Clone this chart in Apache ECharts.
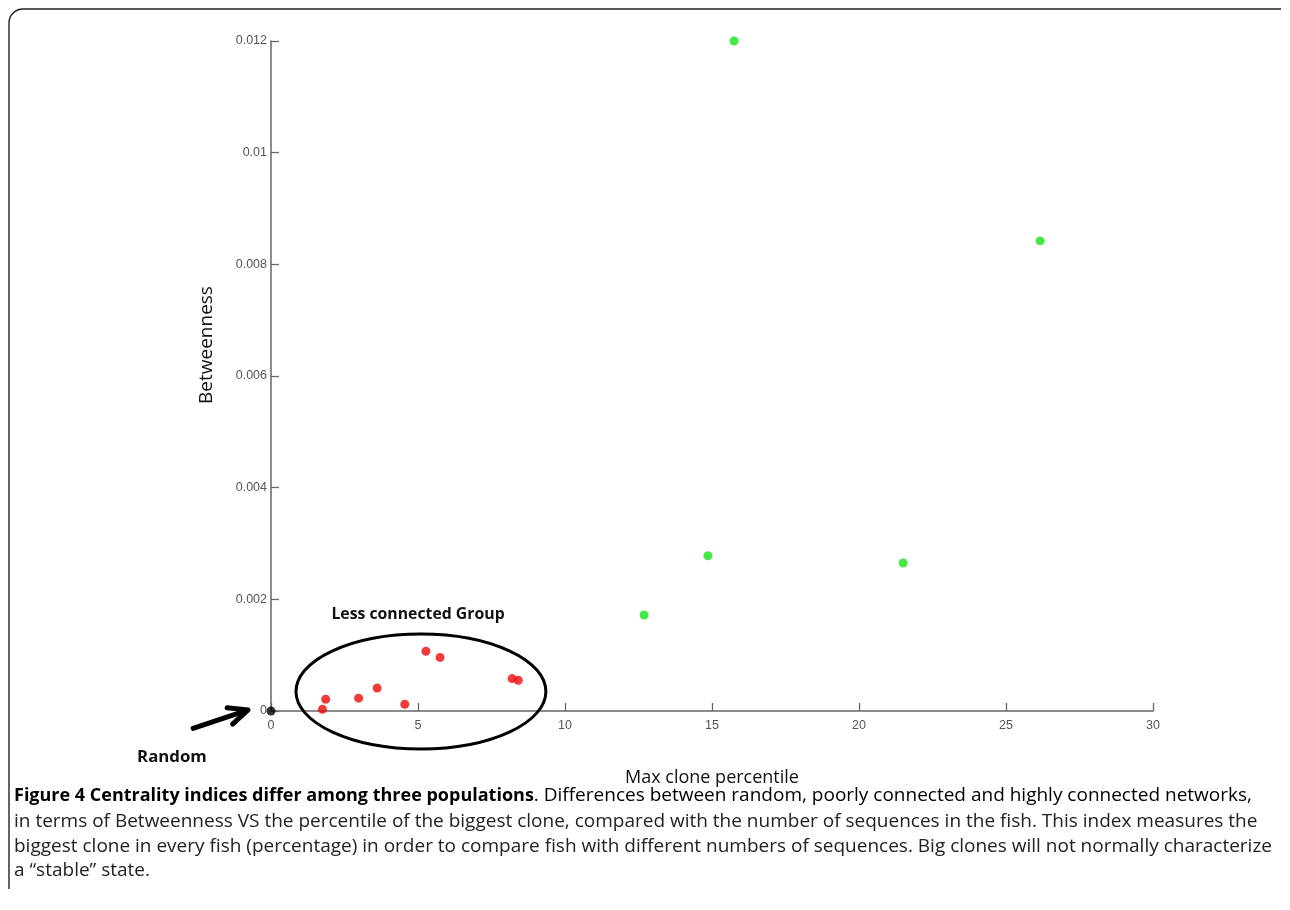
<!DOCTYPE html>
<html>
<head>
<meta charset="utf-8">
<script src="https://cdn.jsdelivr.net/npm/echarts@6/dist/echarts.min.js"></script>
<style>
html,body{margin:0;padding:0;background:#fff;}
#chart{width:1290px;height:910px;}
</style>
</head>
<body>
<div id="chart"></div>
<script>
// ---- data ----
const xTicks = [0, 5, 10, 15, 20, 25, 30];
const yTicks = [0, 0.002, 0.004, 0.006, 0.008, 0.01, 0.012];

const randomX = [0];
const randomY = [0];

const lessX = [1.75, 1.86, 2.98, 3.61, 4.55, 5.27, 5.75, 8.20, 8.41];
const lessY = [0.00003, 0.00021, 0.00023, 0.00041, 0.00012, 0.00107, 0.00096, 0.00058, 0.00055];

const highX = [12.69, 14.86, 15.75, 21.50, 26.16];
const highY = [0.00172, 0.00278, 0.01200, 0.00265, 0.00842];

// annotations (data coordinates)
const groupEllipse = [5.1, 0.00035, 4.25, 0.00103]; // cx, cy, rx, ry
const arrowLine = [-2.65, -0.00031, -0.78, 0.00002]; // from x,y -> to x,y
const annotLabels = ['Less connected Group', 'Random'];
const annotPos = [[5.0, 0.00173], [-3.37, -0.00083]];

const xTitle = 'Max clone percentile';
const yTitle = 'Betweenness';

const captionBold = 'Figure 4 Centrality indices differ among three populations';
const captionLines = [
  '. Differences between random, poorly connected and highly connected networks,',
  'in terms of Betweenness VS the percentile of the biggest clone, compared with the number of sequences in the fish. This index measures the',
  'biggest clone in every fish (percentage) in order to compare fish with different numbers of sequences. Big clones will not normally characterize',
  'a \u201cstable\u201d state.'
];

const zip = (xs, ys) => xs.map((x, i) => [x, ys[i]]);

const tickFont = '"Liberation Sans", Arial, sans-serif';
const textFont = '"Open Sans", "Noto Sans", sans-serif';
const capSize = 19;

const chart = echarts.init(document.getElementById('chart'), null, {renderer: 'canvas'});

const option = {
  animation: false,
  backgroundColor: '#ffffff',
  grid: {left: 271, right: 137, top: 41, bottom: 199, containLabel: false},
  xAxis: {
    type: 'value', min: xTicks[0], max: xTicks[xTicks.length - 1], interval: 5,
    splitLine: {show: false},
    axisLine: {show: true, lineStyle: {color: '#666', width: 1.5}},
    axisTick: {show: true, inside: true, length: 8, lineStyle: {color: '#666', width: 1.3}},
    axisLabel: {margin: 8, color: '#555', fontFamily: tickFont, fontSize: 12.5},
    name: xTitle, nameLocation: 'middle', nameGap: 58,
    nameTextStyle: {color: '#111', fontFamily: textFont, fontSize: 18}
  },
  yAxis: {
    type: 'value', min: yTicks[0], max: yTicks[yTicks.length - 1], interval: 0.002,
    splitLine: {show: false},
    axisLine: {show: true, lineStyle: {color: '#666', width: 1.5}},
    axisTick: {show: true, inside: true, length: 8, lineStyle: {color: '#666', width: 1.3}},
    axisLabel: {margin: 4, color: '#555', fontFamily: tickFont, fontSize: 12.5,
      formatter: v => String(parseFloat(v.toFixed(4)))}
  },
  graphic: [
    {type: 'line', silent: true, shape: {x1: 9, y1: 889, x2: 9, y2: 23}, style: {stroke: '#222', lineWidth: 1.4}},
    {type: 'arc', silent: true, shape: {cx: 23, cy: 23, r: 14, startAngle: Math.PI, endAngle: Math.PI * 1.5, clockwise: true},
      style: {stroke: '#222', lineWidth: 1.4, fill: null}},
    {type: 'line', silent: true, shape: {x1: 23, y1: 9, x2: 1281, y2: 9}, style: {stroke: '#222', lineWidth: 1.4}},
    {type: 'text', x: 207, y: 345, rotation: Math.PI / 2,
      style: {text: yTitle, fill: '#111', font: '19px ' + textFont, align: 'center', verticalAlign: 'middle'}},
    {type: 'text', x: 14, y: 796,
      style: {text: '{b|' + captionBold + '}{n|' + captionLines[0] + '}', verticalAlign: 'middle',
        rich: {b: {fontFamily: textFont, fontWeight: 'bold', fontSize: 18, color: '#111'},
               n: {fontFamily: textFont, fontSize: capSize, color: '#222'}}}},
    {type: 'text', x: 14, y: 822, style: {text: captionLines[1], fill: '#222', font: capSize + 'px ' + textFont, verticalAlign: 'middle'}},
    {type: 'text', x: 14, y: 847, style: {text: captionLines[2], fill: '#222', font: capSize + 'px ' + textFont, verticalAlign: 'middle'}},
    {type: 'text', x: 14, y: 871, style: {text: captionLines[3], fill: '#222', font: capSize + 'px ' + textFont, verticalAlign: 'middle'}}
  ],
  series: [
    {
      type: 'custom', clip: false, silent: true, z: 1,
      data: [groupEllipse],
      renderItem: (params, api) => {
        const c = api.coord([api.value(0), api.value(1)]);
        const s = api.size([api.value(2), api.value(3)]);
        const rx = s[0], ry = s[1];
        const d = 'M' + (c[0] - rx) + ' ' + c[1] +
          ' A' + rx + ' ' + ry + ' 0 1 0 ' + (c[0] + rx) + ' ' + c[1] +
          ' A' + rx + ' ' + ry + ' 0 1 0 ' + (c[0] - rx) + ' ' + c[1] + ' Z';
        return {type: 'path', shape: {pathData: d},
          style: {fill: 'none', stroke: '#000', lineWidth: 3}};
      }
    },
    {
      type: 'custom', clip: false, silent: true, z: 1,
      data: [arrowLine],
      renderItem: (params, api) => {
        const a = api.coord([api.value(0), api.value(1)]);
        const b = api.coord([api.value(2), api.value(3)]);
        const ang = Math.atan2(b[1] - a[1], b[0] - a[0]);
        const L = 21, w = 0.42;
        const p1 = [b[0] - L * Math.cos(ang - w), b[1] - L * Math.sin(ang - w)];
        const p2 = [b[0] - L * Math.cos(ang + w), b[1] - L * Math.sin(ang + w)];
        return {type: 'group', children: [
          {type: 'line', shape: {x1: a[0], y1: a[1], x2: b[0] - 2 * Math.cos(ang), y2: b[1] - 2 * Math.sin(ang)},
            style: {stroke: '#000', lineWidth: 5, lineCap: 'round'}},
          {type: 'polyline', shape: {points: [p1, b, p2]},
            style: {stroke: '#000', fill: 'none', lineWidth: 5, lineCap: 'round', lineJoin: 'round'}}
        ]};
      }
    },
    {
      type: 'custom', clip: false, silent: true, z: 1,
      data: annotPos.map((p, i) => [p[0], p[1], i]),
      renderItem: (params, api) => {
        const c = api.coord([api.value(0), api.value(1)]);
        const i = api.value(2);
        return {type: 'text', x: c[0], y: c[1],
          style: {text: annotLabels[i], fill: '#111',
            font: 'bold ' + (i === 0 ? 15.8 : 16.8) + 'px ' + textFont, align: 'center', verticalAlign: 'middle'}};
      }
    },
    {type: 'scatter', clip: false, z: 3, symbolSize: 9, itemStyle: {color: '#000'}, data: zip(randomX, randomY)},
    {type: 'scatter', clip: false, z: 3, symbolSize: 9, itemStyle: {color: '#ee0a0a'}, data: zip(lessX, lessY)},
    {type: 'scatter', clip: false, z: 3, symbolSize: 9, itemStyle: {color: '#16e416'}, data: zip(highX, highY)}
  ]
};
chart.setOption(option);
</script>
</body>
</html>
